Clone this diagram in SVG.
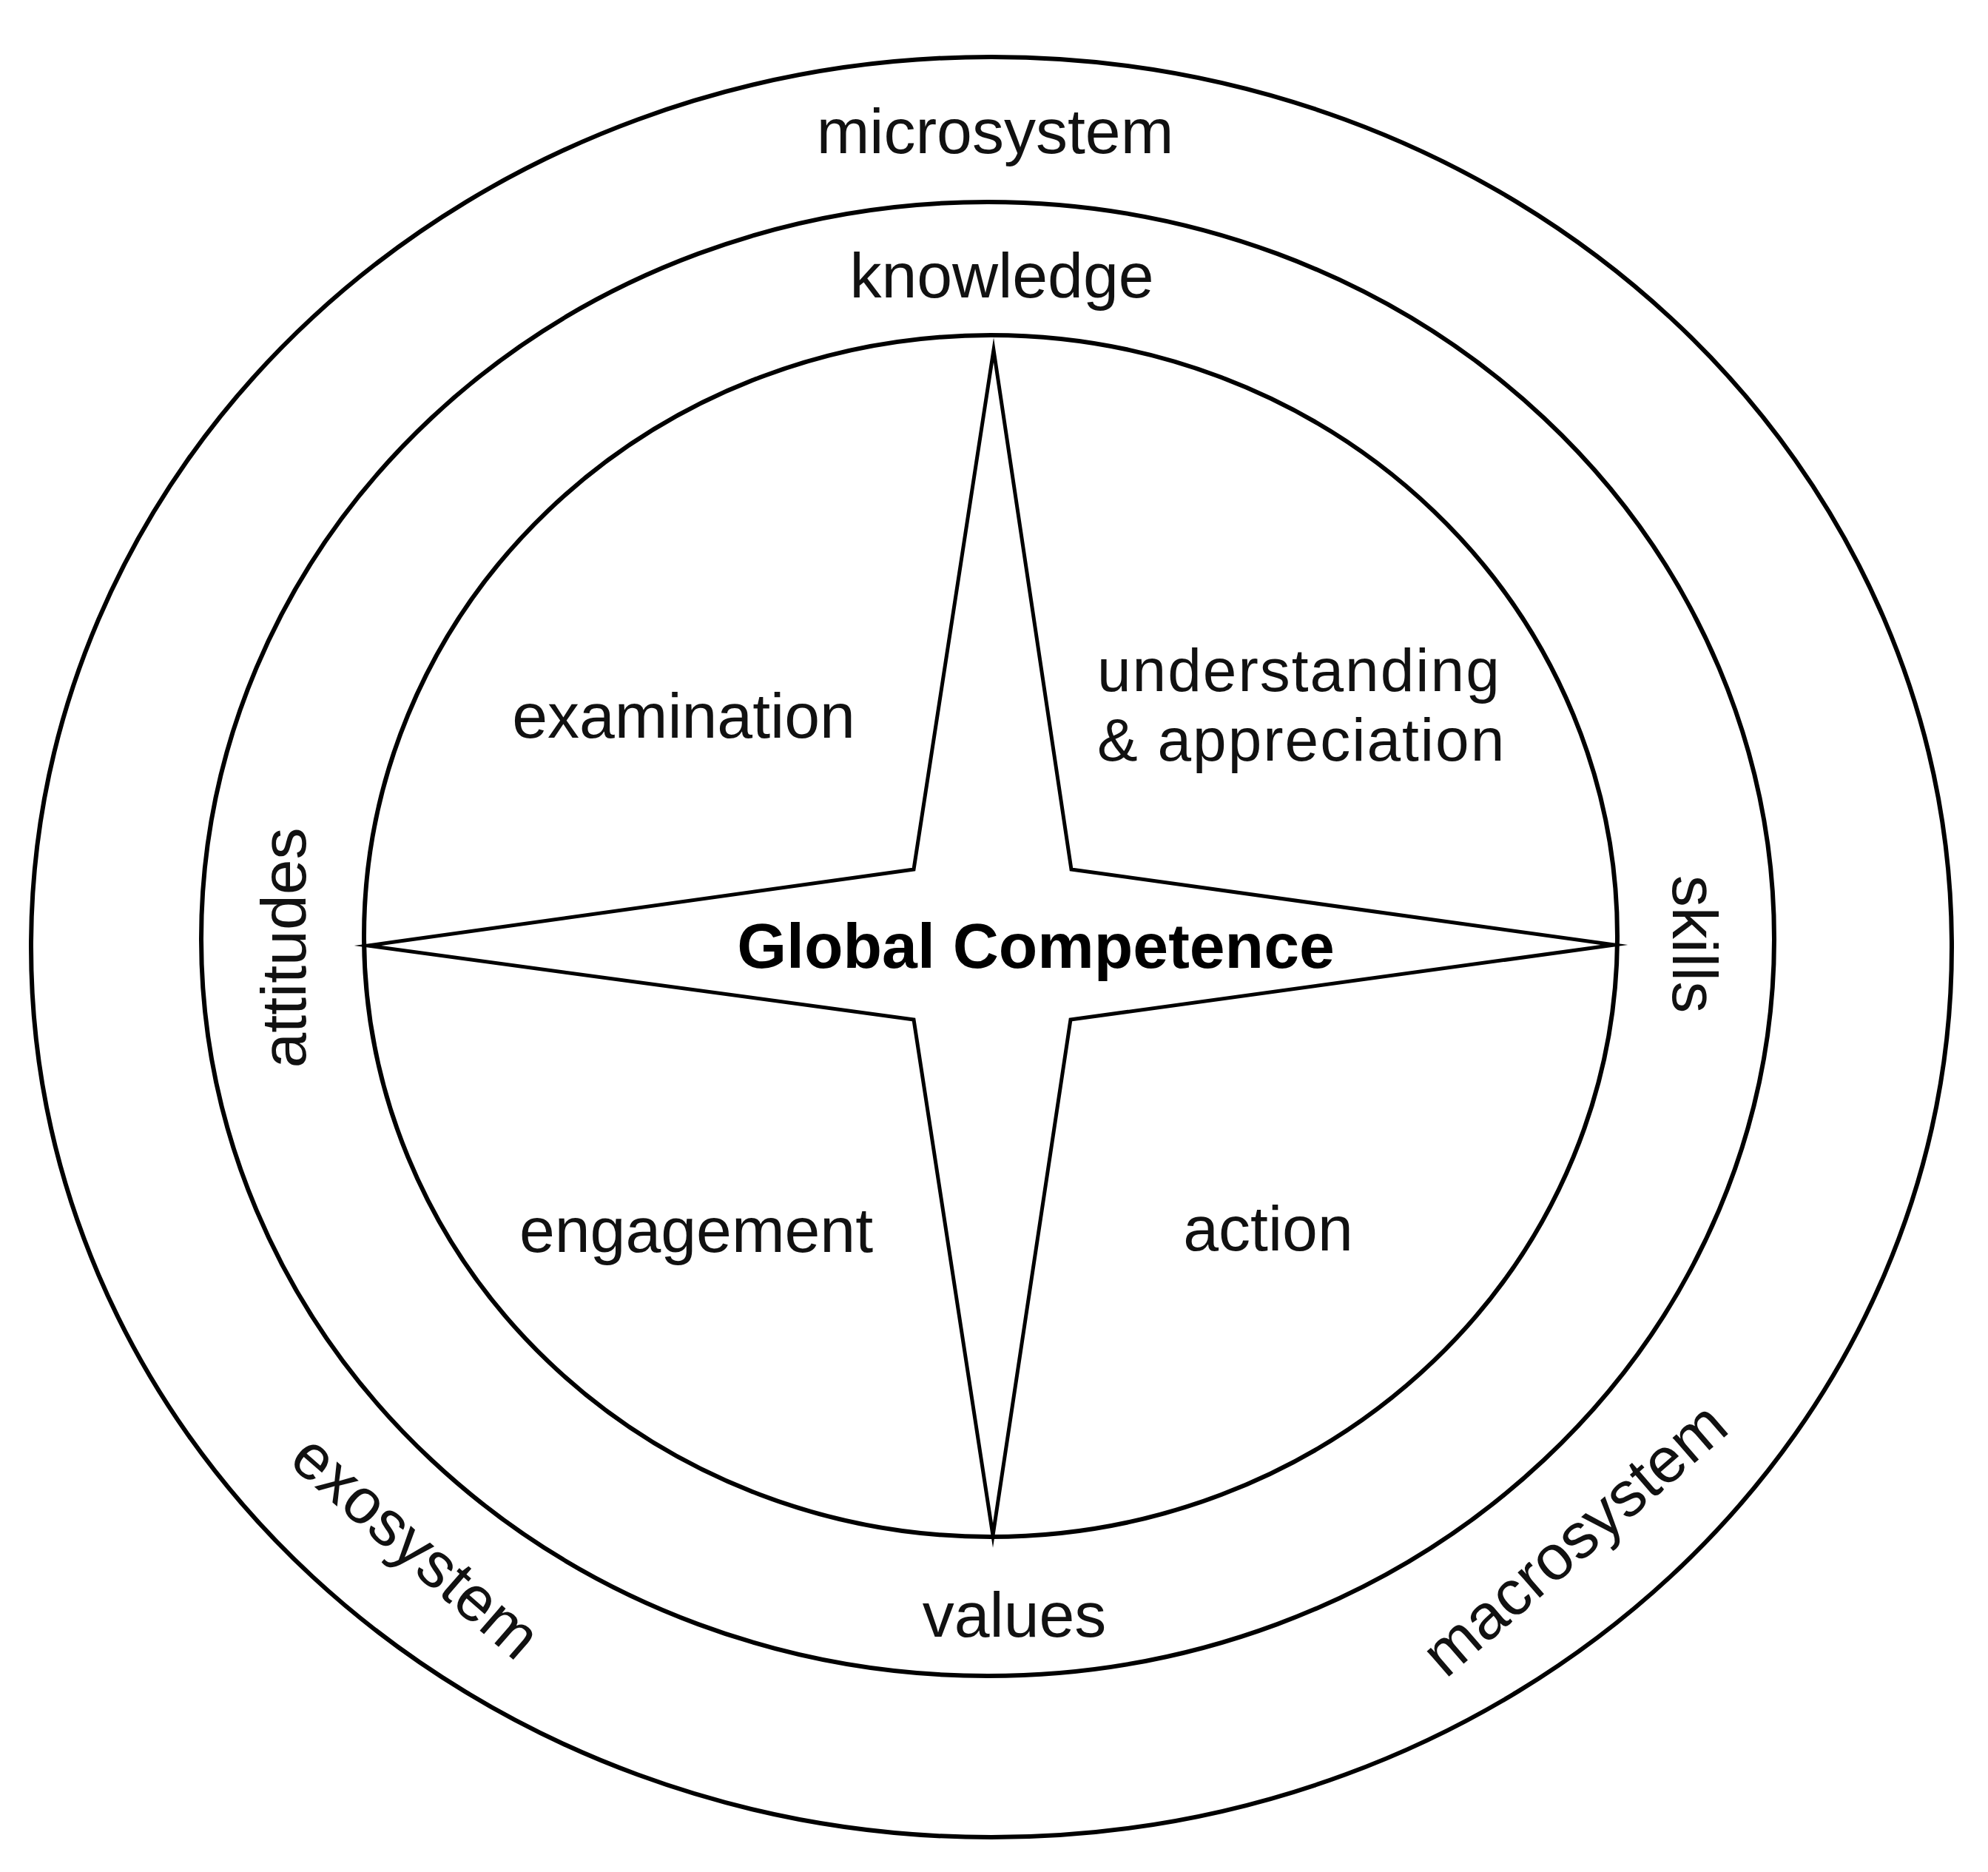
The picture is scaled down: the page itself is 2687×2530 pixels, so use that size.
<svg xmlns="http://www.w3.org/2000/svg" width="2687" height="2530" viewBox="0 0 2687 2530">
<style>
.ring{fill:none;stroke:#000;stroke-width:6}
.star{fill:#fff;stroke:#000;stroke-width:5;stroke-linejoin:miter;stroke-miterlimit:30}
.lbl{font-family:"Liberation Sans",Arial,Helvetica,sans-serif;font-size:86px;fill:#111;text-anchor:middle}
.lft{text-anchor:start;font-size:82px;letter-spacing:2px}
.bold{font-weight:bold;font-size:86px;fill:#000}
</style>
<rect width="2687" height="2530" fill="#fff"/>
<g id="outer-ring">
<ellipse class="ring" cx="1340" cy="1280" rx="1298" ry="1203"/>
<text class="lbl" x="1345" y="207">microsystem</text>
<text class="lbl" transform="translate(543,2112) rotate(41)">exosystem</text>
<text class="lbl" transform="translate(2147,2102) rotate(-41)">macrosystem</text>
</g>
<g id="middle-ring">
<ellipse class="ring" cx="1335" cy="1269" rx="1063" ry="996"/>
<text class="lbl" x="1354" y="402">knowledge</text>
<text class="lbl" transform="translate(413,1281) rotate(-90)">attitudes</text>
<text class="lbl" transform="translate(2261,1276) rotate(90)">skills</text>
<text class="lbl" x="1371" y="2212">values</text>
</g>
<g id="inner-ring">
<ellipse class="ring" cx="1339" cy="1265" rx="847" ry="812"/>
</g>
<g id="star">
<polygon class="star" points="1343,473 1448,1175 2182,1277 1447,1378 1342,2075 1235,1378 497,1278 1235,1175"/>
<text class="lbl bold" x="1400" y="1308">Global Competence</text>
</g>
<g id="examination"><text class="lbl" x="924" y="997">examination</text></g>
<g id="understanding"><text class="lbl lft" x="1483" y="934">understanding</text><text class="lbl lft" x="1483" y="1028">&amp; appreciation</text></g>
<g id="engagement"><text class="lbl" x="941" y="1692">engagement</text></g>
<g id="action"><text class="lbl" x="1714" y="1690">action</text></g>
<g id="connectors"/>
</svg>
